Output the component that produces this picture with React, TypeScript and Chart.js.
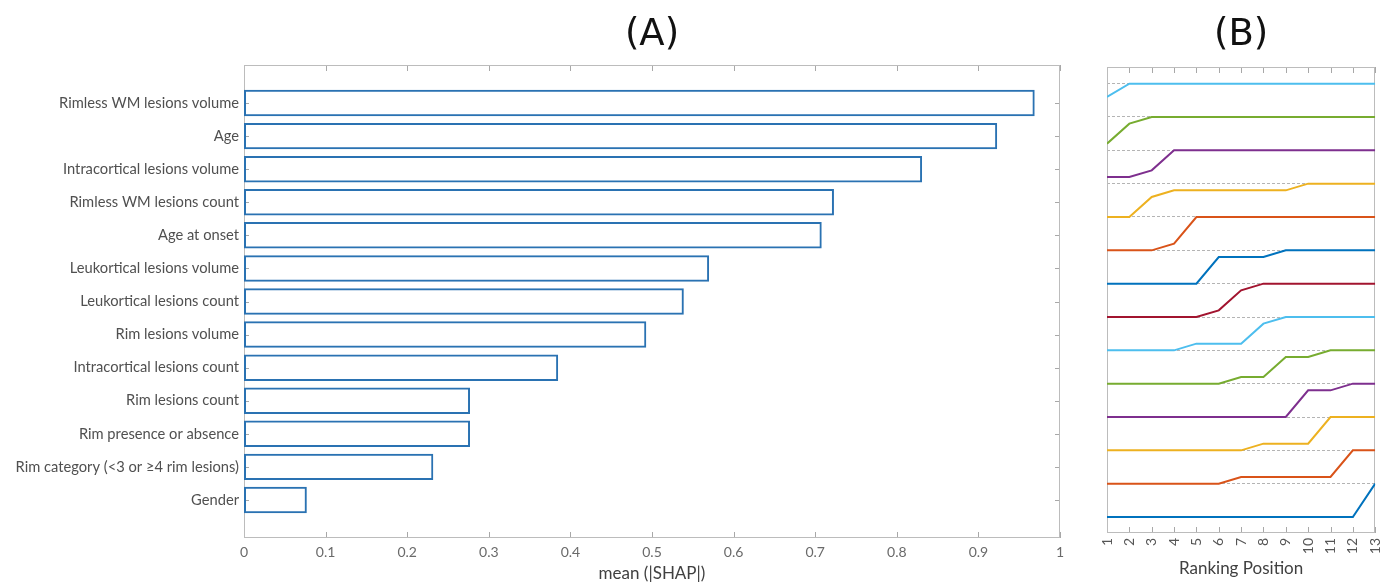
import React, { useEffect, useRef } from 'react';
import { Chart, registerables } from 'chart.js';

Chart.register(...registerables);

// ---------- Data ----------
const features: string[] = [
  'Rimless WM lesions volume',
  'Age',
  'Intracortical lesions volume',
  'Rimless WM lesions count',
  'Age at onset',
  'Leukortical lesions volume',
  'Leukortical lesions count',
  'Rim lesions volume',
  'Intracortical lesions count',
  'Rim lesions count',
  'Rim presence or absence',
  'Rim category (<3 or \u22654 rim lesions)',
  'Gender',
];

const meanShap: number[] = [0.969, 0.923, 0.831, 0.723, 0.708, 0.570, 0.539, 0.493, 0.385, 0.277, 0.277, 0.232, 0.077];

const shapTicks: number[] = [0, 0.1, 0.2, 0.3, 0.4, 0.5, 0.6, 0.7, 0.8, 0.9, 1];

const ranks: number[] = [1, 2, 3, 4, 5, 6, 7, 8, 9, 10, 11, 12, 13];

// cumulative fraction of folds in which each feature (top to bottom) is ranked at or above each position
const rank01: number[] = [0.6, 1, 1, 1, 1, 1, 1, 1, 1, 1, 1, 1, 1];
const rank02: number[] = [0.2, 0.8, 1, 1, 1, 1, 1, 1, 1, 1, 1, 1, 1];
const rank03: number[] = [0.2, 0.2, 0.4, 1, 1, 1, 1, 1, 1, 1, 1, 1, 1];
const rank04: number[] = [0, 0, 0.6, 0.8, 0.8, 0.8, 0.8, 0.8, 0.8, 1, 1, 1, 1];
const rank05: number[] = [0, 0, 0, 0.2, 1, 1, 1, 1, 1, 1, 1, 1, 1];
const rank06: number[] = [0, 0, 0, 0, 0, 0.8, 0.8, 0.8, 1, 1, 1, 1, 1];
const rank07: number[] = [0, 0, 0, 0, 0, 0.2, 0.8, 1, 1, 1, 1, 1, 1];
const rank08: number[] = [0, 0, 0, 0, 0.2, 0.2, 0.2, 0.8, 1, 1, 1, 1, 1];
const rank09: number[] = [0, 0, 0, 0, 0, 0, 0.2, 0.2, 0.8, 0.8, 1, 1, 1];
const rank10: number[] = [0, 0, 0, 0, 0, 0, 0, 0, 0, 0.8, 0.8, 1, 1];
const rank11: number[] = [0, 0, 0, 0, 0, 0, 0, 0.2, 0.2, 0.2, 1, 1, 1];
const rank12: number[] = [0, 0, 0, 0, 0, 0, 0.2, 0.2, 0.2, 0.2, 0.2, 1, 1];
const rank13: number[] = [0, 0, 0, 0, 0, 0, 0, 0, 0, 0, 0, 0, 1];

const rankCurves: number[][] = [rank01, rank02, rank03, rank04, rank05, rank06, rank07, rank08, rank09, rank10, rank11, rank12, rank13];

const lineColors: string[] = [
  '#4DBEEE', '#77AC30', '#7E2F8E', '#EDB120', '#D95319', '#0072BD', '#A2142F',
  '#4DBEEE', '#77AC30', '#7E2F8E', '#EDB120', '#D95319', '#0072BD',
];

// ---------- Styles ----------
const LABEL_FONT = 'Lato';
const TITLE_FONT = 'DejaVu Sans';
const BOX_COLOR = '#bcbcbc';
const TICK_COLOR = '#a8a8a8';

function makeFramePlugin(id: string, tickX: boolean, tickY: boolean) {
  return {
    id,
    beforeDatasetsDraw(chart: any) {
      const { ctx, chartArea, scales } = chart;
      const { left, right, top, bottom } = chartArea;
      ctx.save();
      ctx.lineWidth = 1;
      ctx.strokeStyle = TICK_COLOR;
      const tl = 6;
      if (tickX) {
        scales.x.ticks.forEach((t: any) => {
          const px = Math.round(scales.x.getPixelForValue(t.value)) + 0.5;
          ctx.beginPath();
          ctx.moveTo(px, bottom);
          ctx.lineTo(px, bottom - tl);
          ctx.moveTo(px, top);
          ctx.lineTo(px, top + tl);
          ctx.stroke();
        });
      }
      if (tickY) {
        scales.y.ticks.forEach((t: any) => {
          const py = Math.round(scales.y.getPixelForValue(t.value)) + 0.5;
          ctx.beginPath();
          ctx.moveTo(left, py);
          ctx.lineTo(left + 5, py);
          ctx.moveTo(right, py);
          ctx.lineTo(right - 5, py);
          ctx.stroke();
        });
      }
      ctx.strokeStyle = BOX_COLOR;
      ctx.strokeRect(Math.round(left) + 0.5, Math.round(top) + 0.5, Math.round(right - left) - 1, Math.round(bottom - top) - 1);
      ctx.restore();
    },
  };
}

function ShapChart() {
  const ref = useRef<HTMLCanvasElement>(null);
  useEffect(() => {
    if (!ref.current) return;
    const chart = new Chart(ref.current, {
      type: 'bar',
      data: {
        datasets: [
          {
            data: features.map((_, i) => ({ x: meanShap[i], y: i + 1 })),
            backgroundColor: 'rgba(255,255,255,0)',
            borderColor: '#2a72b2',
            borderWidth: 2,
            borderSkipped: false,
            categoryPercentage: 1,
            barPercentage: 0.8,
          } as any,
        ],
      },
      options: {
        indexAxis: 'y',
        animation: false,
        responsive: false,
        events: [],
        layout: { padding: { left: 0, right: 15, top: 0, bottom: 0 } },
        plugins: {
          legend: { display: false },
          tooltip: { enabled: false },
          title: {
            display: true,
            text: '(A)',
            fullSize: false,
            color: '#111',
            font: { family: TITLE_FONT, size: 37, weight: 'normal', lineHeight: 1 },
            padding: { top: 17, bottom: 11 },
          },
        },
        scales: {
          x: {
            type: 'linear',
            min: 0,
            max: 1,
            offset: false,
            grid: { display: false, drawTicks: false },
            border: { display: false },
            afterBuildTicks: (s: any) => {
              s.ticks = shapTicks.map((v) => ({ value: v }));
            },
            afterFit: (s: any) => {
              s.height = 48;
            },
            ticks: {
              padding: 6,
              color: '#6a6a6a',
              font: { family: LABEL_FONT, size: 14 },
              maxRotation: 0,
              callback: (v: any) => {
                const n = Number(v);
                return n === 0 || n === 1 ? String(n) : n.toFixed(1);
              },
            },
            title: {
              display: true,
              text: 'mean (|SHAP|)',
              color: '#404040',
              font: { family: LABEL_FONT, size: 17 },
              padding: { top: 0, bottom: 2 },
            },
          },
          y: {
            type: 'linear',
            reverse: true,
            offset: false,
            min: -0.15,
            max: 14.15,
            grid: { display: false, drawTicks: false, offset: false },
            border: { display: false },
            afterBuildTicks: (s: any) => {
              s.ticks = features.map((_, i) => ({ value: i + 1 }));
            },
            afterFit: (s: any) => {
              s.width = 244;
            },
            ticks: {
              padding: 5,
              color: '#505050',
              font: { family: LABEL_FONT, size: 14.7 },
              callback: (v: any) => features[Math.round(Number(v)) - 1] ?? '',
            },
          },
        },
      },
      plugins: [makeFramePlugin('frameA', true, true)],
    } as any);
    return () => chart.destroy();
  }, []);
  return <canvas ref={ref} width={1075} height={586} />;
}

function RankChart() {
  const ref = useRef<HTMLCanvasElement>(null);
  useEffect(() => {
    if (!ref.current) return;
    const n = rankCurves.length;
    const chart = new Chart(ref.current, {
      type: 'line',
      data: {
        datasets: rankCurves.map((curve, i) => ({
          data: ranks.map((r, k) => ({ x: r, y: n - 1 - i + curve[k] })),
          borderColor: lineColors[i],
          borderWidth: 2,
          pointRadius: 0,
          tension: 0,
          fill: false,
        })),
      },
      options: {
        animation: false,
        responsive: false,
        events: [],
        layout: { padding: { left: 32, right: 17, top: 0, bottom: 0 } },
        plugins: {
          legend: { display: false },
          tooltip: { enabled: false },
          title: {
            display: true,
            text: '(B)',
            fullSize: false,
            color: '#111',
            font: { family: TITLE_FONT, size: 37, weight: 'normal', lineHeight: 1 },
            padding: { top: 17, bottom: 13 },
          },
        },
        scales: {
          x: {
            type: 'linear',
            min: 1,
            max: 13,
            grid: { display: false, drawTicks: false },
            border: { display: false },
            afterBuildTicks: (s: any) => {
              s.ticks = ranks.map((v) => ({ value: v }));
            },
            afterFit: (s: any) => {
              s.height = 53;
            },
            ticks: {
              padding: 5,
              color: '#555',
              font: { family: LABEL_FONT, size: 14 },
              minRotation: 90,
              maxRotation: 90,
              callback: (v: any) => String(v),
            },
            title: {
              display: true,
              text: 'Ranking Position',
              color: '#404040',
              font: { family: LABEL_FONT, size: 17 },
              padding: { top: 0, bottom: 7 },
            },
          },
          y: {
            type: 'linear',
            min: -0.48,
            max: 13.5,
            afterBuildTicks: (s: any) => {
              s.ticks = ranks.map((v) => ({ value: v }));
            },
            ticks: { display: false },
            grid: { display: true, drawTicks: false, color: '#b4b4b4', lineWidth: 1 },
            border: { display: false, dash: [3, 2] },
          },
        },
      },
      plugins: [makeFramePlugin('frameB', true, false)],
    } as any);
    return () => chart.destroy();
  }, []);
  return <canvas ref={ref} width={322} height={586} />;
}

export default function App() {
  return (
    <div style={{ position: 'fixed', left: 0, top: 0, width: 1397, height: 586, background: '#fff' }}>
      <div style={{ position: 'absolute', left: 0, top: 0, width: 1075, height: 586 }}>
        <ShapChart />
      </div>
      <div style={{ position: 'absolute', left: 1075, top: 0, width: 322, height: 586 }}>
        <RankChart />
      </div>
    </div>
  );
}
